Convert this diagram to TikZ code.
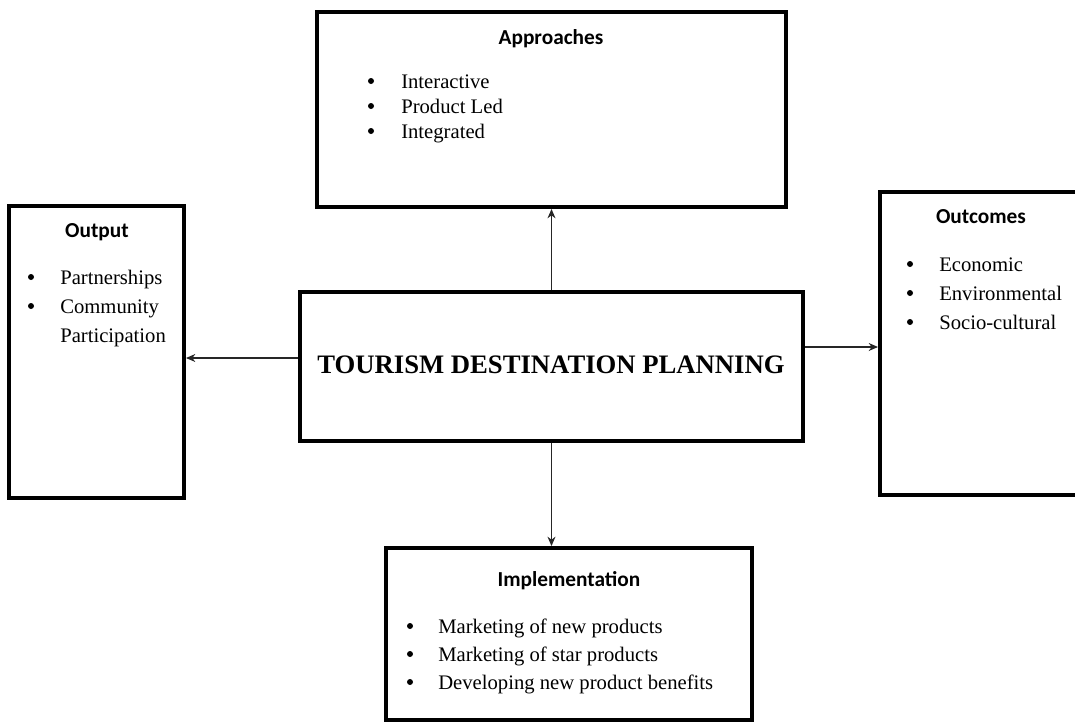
\documentclass[tikz,border=0pt]{standalone}
\usepackage{fontspec}
\setmainfont{Liberation Serif}
\newfontfamily\headfont{Carlito}
\usetikzlibrary{arrows.meta,positioning}

\def\pxu{0.75pt} % one pixel of the reference
\tikzset{
  box/.style={draw, line width=3pt, inner sep=0pt},
  head/.style={font=\headfont\bfseries\fontsize{16}{19}\selectfont, anchor=base, inner sep=0pt},
  itemtext/.style={font=\fontsize{15.5}{19}\selectfont, anchor=base west, inner sep=0pt},
  dot/.style={circle, fill, inner sep=0pt, minimum size=6*\pxu},
  link/.style={-{Stealth[length=7pt,width=6pt]}, line width=0.8pt, black!85},
}

\begin{document}
\begin{tikzpicture}[x=0.75pt,y=-0.75pt]
  %%% canvas
  \useasboundingbox (0,0) rectangle (1075,722);
  \clip (0,0) rectangle (1075,722);
  %%% boxes
  \node[box, minimum width=469*\pxu, minimum height=195*\pxu] (appr) at (551.5,109.5) {};
  \node[box, minimum width=175*\pxu, minimum height=292*\pxu] (outp) at (96.5,352) {};
  \node[box, minimum width=503*\pxu, minimum height=149*\pxu] (plan) at (551.5,366.5) {};
  \node[box, minimum width=300*\pxu, minimum height=303*\pxu] (outc) at (1030,343.5) {};
  \node[box, minimum width=366*\pxu, minimum height=172*\pxu] (impl) at (569,634) {};
  %%% arrow starts
  \path (plan.west) ++(0,-8.5) coordinate (pw);
  \path (plan.east) ++(0,-19.5) coordinate (pe);
  %%% arrows
  \draw[link] (plan.north) -- (appr.south);
  \draw[link] (plan.south) -- (plan.south |- impl.north);
  \draw[link] (pw) -- (pw -| outp.east);
  \draw[link] (pe) -- (pe -| outc.west);
  %%% centre title
  \node[font=\bfseries\fontsize{20}{23}\selectfont, anchor=base, inner sep=0pt] (title) at (551,373) {TOURISM DESTINATION PLANNING};
  %%% headings
  \node[head] (h1) at (551,44) {Approaches};
  \node[head] (h2) at (97,237) {Output};
  \node[head] (h3) at (981,223) {Outcomes};
  \node[head] (h4) at (569,586) {Implementation};
  %%% Approaches
  \foreach \t/\y [count=\i] in {Interactive/88, Product Led/113, Integrated/138}{
    \node[dot] (ad\i) at (371,\y-7) {};
    \node[itemtext] (at\i) at (401,\y) {\t};
  }
  %%% Output
  \foreach \t/\y [count=\i] in {Partnerships/284, Community/313}{
    \node[dot] (od\i) at (31,\y-7) {};
    \node[itemtext] (ot\i) at (60,\y) {\t};
  }
  \node[itemtext] (ot3) at (60,342) {Participation};
  %%% Outcomes
  \foreach \t/\y [count=\i] in {Economic/271, Environmental/300, Socio-cultural/329}{
    \node[dot] (cd\i) at (910,\y-7) {};
    \node[itemtext] (ct\i) at (939,\y) {\t};
  }
  %%% Implementation
  \foreach \t/\y [count=\i] in {Marketing of new products/633, Marketing of star products/661, Developing new product benefits/689}{
    \node[dot] (id\i) at (410,\y-7) {};
    \node[itemtext] (it\i) at (438,\y) {\t};
  }
\end{tikzpicture}
\end{document}
